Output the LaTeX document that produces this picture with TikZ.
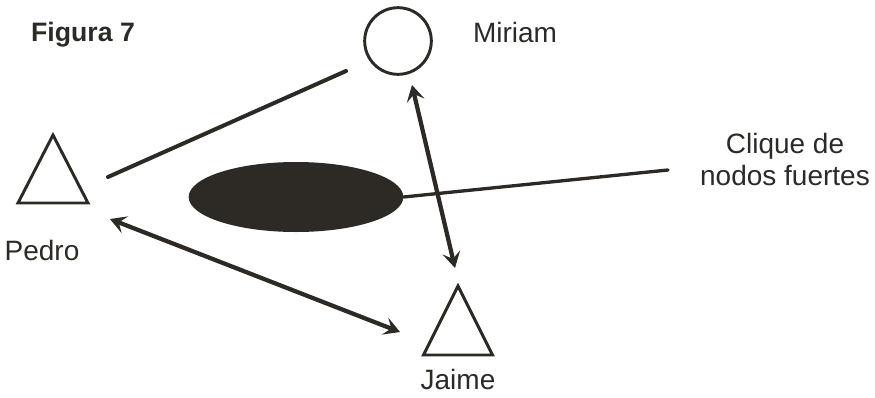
\documentclass[tikz,border=0pt]{standalone}
\usepackage{fontspec}
\setmainfont{Liberation Sans}
\usetikzlibrary{shapes.geometric, positioning, arrows.meta}
\definecolor{ink}{HTML}{2D2A26}

\begin{document}
\begin{tikzpicture}[x=0.75pt, y=-0.75pt, >={Stealth[length=12pt, width=13.5pt, inset=5pt]},
    every node/.style={text=ink, font=\fontsize{21}{24}\selectfont},
    tri/.style={draw=ink, line width=2.2pt, line join=miter},
    link/.style={draw=ink, line width=3pt, line cap=round},
    tie/.style={draw=ink, line width=3.2pt, <->}]
    \useasboundingbox (0,0) rectangle (875,397);

    % Title
    \node[anchor=base, font=\fontsize{20}{24}\selectfont\bfseries] (title) at (83,41) {Figura 7};

    % Nodes
    \node[circle, draw=ink, line width=2.2pt, minimum size=50pt, inner sep=0] (miriam) at (398,41) {};
    \coordinate (pedro) at (53,169);
    \coordinate (jaime) at (458,320);
    \draw[tri] (pedro) ++(0,-34) -- ++(35,68) -- ++(-70,0) -- cycle;
    \draw[tri] (jaime) ++(0,-34) -- ++(34.5,69) -- ++(-69,0) -- cycle;
    \node[ellipse, fill=ink, minimum width=161pt, minimum height=52.5pt, inner sep=0] (clique) at (296,197) {};

    % Labels
    \node[anchor=base] (miriamlbl) at (515,42) {Miriam};
    \node[anchor=base] (pedrolbl) at (42,260) {Pedro};
    \node[anchor=base] (jaimelbl) at (458,389) {Jaime};
    \node[align=center] (cliquelbl) at (785,159) {Clique de\\nodos fuertes};

    % Link ends
    \coordinate (pm1) at (108,177);
    \coordinate (pm2) at (346,71);
    \coordinate (mj1) at (412,85);
    \coordinate (mj2) at (455,268);
    \coordinate (pj1) at (110,219);
    \coordinate (pj2) at (400,332);
    \coordinate (cl) at (668,170);

    % Links
    \path[link] (pm1) -- (pm2);
    \path[link, line width=2.5pt] (clique.east) -- (cl);
    \path[tie] (mj1) -- (mj2);
    \path[tie] (pj1) -- (pj2);
\end{tikzpicture}
\end{document}
